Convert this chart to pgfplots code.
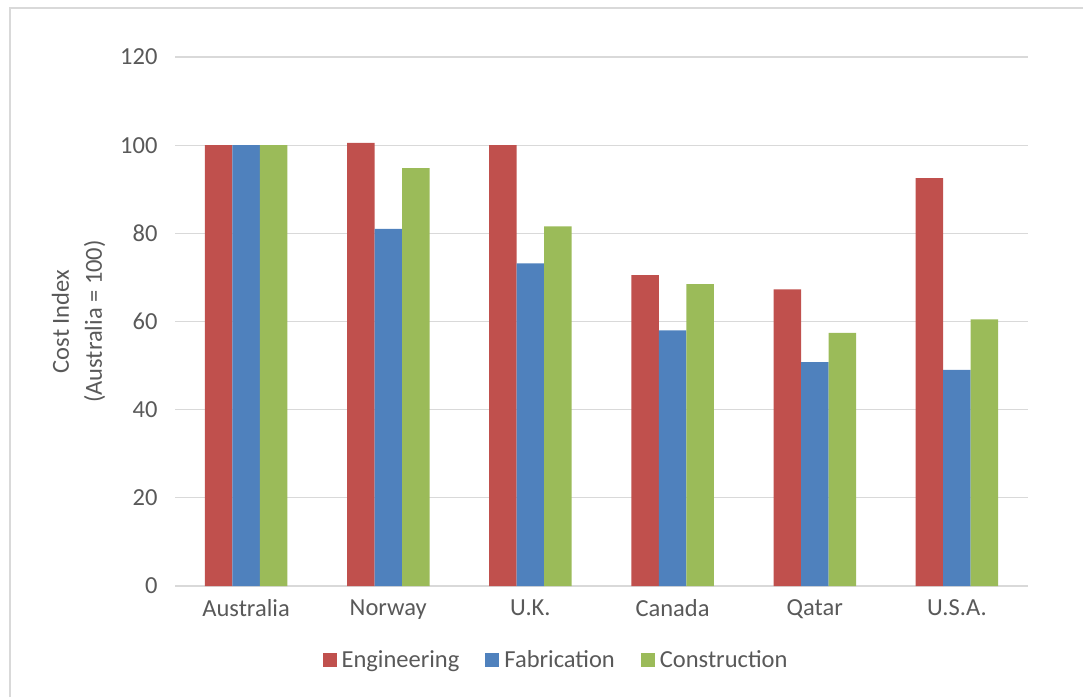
\documentclass[border=0pt]{standalone}
\usepackage{fontspec}
\setmainfont{Carlito}
\usepackage{pgfplots}
\pgfplotsset{compat=1.18}
\definecolor{eng}{HTML}{C0504D}
\definecolor{fab}{HTML}{4F81BD}
\definecolor{con}{HTML}{9BBB59}
\definecolor{txt}{HTML}{595959}
\definecolor{grd}{HTML}{D9D9D9}
\begin{document}
\begin{tikzpicture}[x=1pt,y=1pt]
\path[use as bounding box] (0,0) rectangle (1083,697);
\draw[color=grd,line width=1.2pt] (10,0) -- (10,689) -- (1083,689);
\begin{axis}[
  at={(175pt,111pt)}, anchor=south west,
  scale only axis, width=853pt, height=529pt,
  ybar=0pt, bar width=27.5pt,
  xmin=-0.5, xmax=5.5, ymin=0, ymax=120,
  xtick={0,1,2,3,4,5},
  xticklabels={Australia,Norway,U.K.,Canada,Qatar,U.S.A.},
  ytick={0,20,40,60,80,100,120},
  ymajorgrids, major grid style={grd,line width=1.2pt},
  axis x line*=bottom, axis y line*=left,
  x axis line style={grd,line width=1.2pt},
  y axis line style={draw=none},
  major tick length=0pt,
  tick style={draw=none},
  font=\fontsize{24.5}{33}\selectfont,
  tick label style={text=txt},
  /pgf/number format/assume math mode=true,
  yticklabel style={xshift=-14pt},
  xticklabel style={yshift=-10pt},
  ylabel={Cost Index\\(Australia = 100)},
  ylabel style={align=center,text=txt,at={(axis description cs:-0.113,0.5)},anchor=center},
  legend style={at={(axis description cs:0.4467,-0.14)},anchor=center,draw=none,legend columns=-1,
    /tikz/every odd column/.append style={column sep=3pt},
    /tikz/every even column/.append style={column sep=24pt},
    text=txt, font=\fontsize{24.5}{30}\selectfont},
  legend cell align=left,
  legend image code/.code={\fill[#1] (0pt,-7pt) rectangle (14pt,7pt);},
]
\addplot[fill=eng,draw=none] coordinates {(0,100) (1,100.5) (2,100) (3,70.5) (4,67.3) (5,92.5)};
\addplot[fill=fab,draw=none] coordinates {(0,100) (1,81) (2,73.2) (3,58) (4,50.8) (5,49)};
\addplot[fill=con,draw=none] coordinates {(0,100) (1,94.8) (2,81.6) (3,68.5) (4,57.4) (5,60.5)};
\legend{Engineering,Fabrication,Construction}
\end{axis}
\end{tikzpicture}
\end{document}
